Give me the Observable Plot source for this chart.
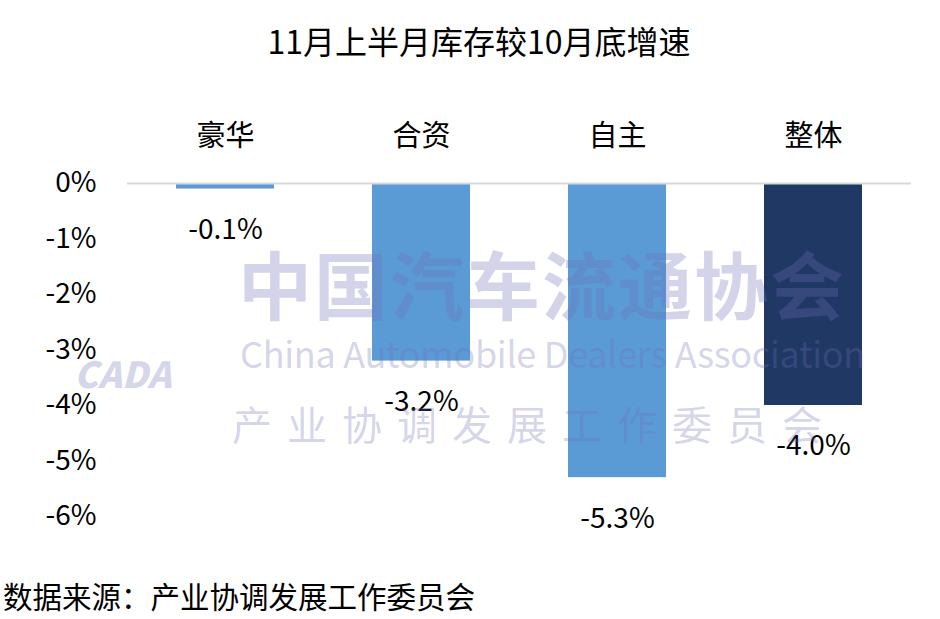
<!DOCTYPE html>
<html>
<head>
<meta charset="utf-8">
<script src="https://cdn.jsdelivr.net/npm/d3@7"></script>
<script src="https://cdn.jsdelivr.net/npm/@observablehq/plot@0.6"></script>
<style>
  html, body { margin: 0; padding: 0; background: #fff; }
  body { width: 940px; height: 619px; position: relative; overflow: hidden; font-family: "Noto Sans CJK SC", "Noto Sans", sans-serif; }
  #title { height: 80px; line-height: 80px; text-align: center; font-size: 32px; color: #000; padding-left: 18px; }
  #footer { position: absolute; left: 3px; top: 573px; font-size: 29.5px; line-height: 44px; color: #000; }
  .wm { position: absolute; pointer-events: none; color: rgba(110,110,185,0.30); white-space: nowrap; }
</style>
</head>
<body>
<div id="title"></div>
<div id="chart"></div>
<div id="footer"></div>
<div class="wm" style="left:238px;top:228px;font-size:74px;font-weight:700;letter-spacing:2px;">中国汽车流通协会</div>
<div class="wm" style="left:240px;top:326px;font-size:36px;letter-spacing:-0.3px;">China Automobile Dealers Association</div>
<div class="wm" style="left:232px;top:394px;font-size:40px;letter-spacing:15px;">产业协调发展工作委员会</div>
<div class="wm" style="left:74px;top:346px;font-size:36px;font-weight:900;font-style:italic;">CADA</div>
<script>
const titleText = "11月上半月库存较10月底增速";
const sourceText = "数据来源：产业协调发展工作委员会";
const categories = ["豪华", "合资", "自主", "整体"];
const values = [-0.1, -3.2, -5.3, -4.0];
const colors = ["#5B9BD5", "#5B9BD5", "#5B9BD5", "#203864"];
const yTicks = [0, -1, -2, -3, -4, -5, -6];

document.getElementById("title").textContent = titleText;
document.getElementById("footer").textContent = sourceText;

const data = categories.map((c, i) => ({cat: c, value: values[i], color: colors[i]}));

const chart = Plot.plot({
  width: 940,
  height: 480,
  marginTop: 103,
  marginBottom: 44,
  marginLeft: 127,
  marginRight: 29,
  style: {fontFamily: "'Noto Sans CJK SC', 'Noto Sans', sans-serif", color: "#000", background: "transparent"},
  x: {domain: categories, paddingInner: 0.5, paddingOuter: 0.25, label: null},
  y: {domain: [-6, 0], label: null},
  marks: [
    Plot.barY(data, {x: "cat", y: "value", fill: "color"}),
    Plot.ruleY([0], {stroke: "#d9d9d9", strokeWidth: 2}),
    Plot.axisY({ticks: yTicks, tickSize: 0, tickPadding: 31, tickFormat: d => d + "%", fontSize: 28, label: null}),
    Plot.axisX({anchor: "top", tickSize: 0, tickPadding: 38, fontSize: 29, label: null}),
    Plot.text(data, {x: "cat", y: "value", text: d => d.value.toFixed(1) + "%", dy: 41, fontSize: 28, lineAnchor: "middle", fill: "#000"})
  ]
});
document.getElementById("chart").appendChild(chart);
</script>
</body>
</html>
